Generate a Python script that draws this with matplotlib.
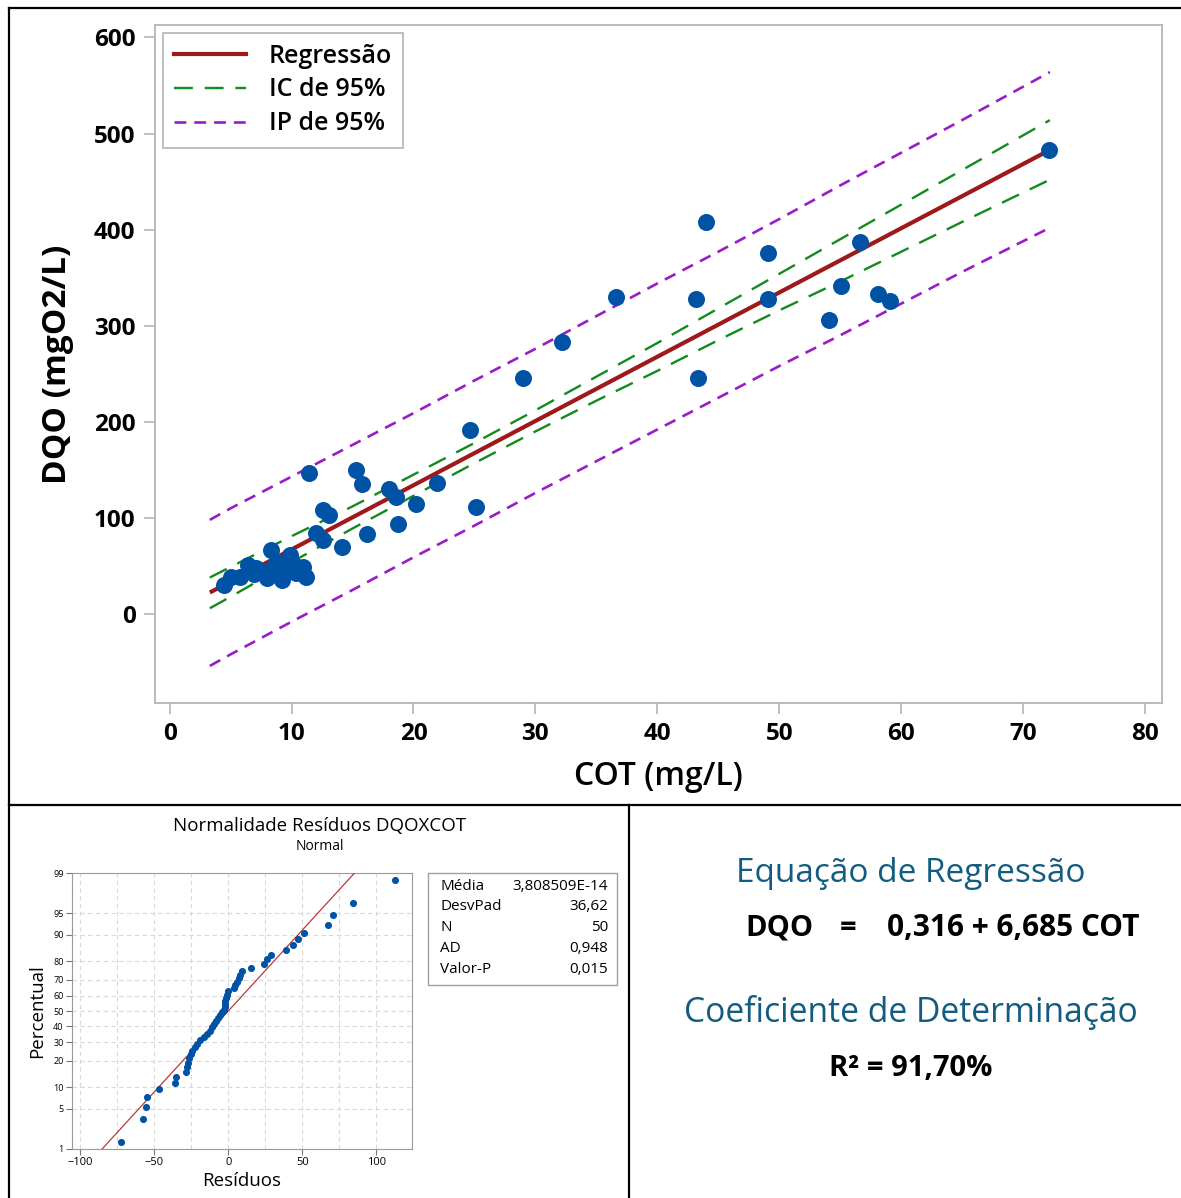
"""
DQO x COT regression chart with CI/PI bands, residual normal plot and
equation panel.
"""
from statistics import NormalDist

import matplotlib
matplotlib.use("Agg")
import matplotlib.pyplot as plt
from matplotlib.lines import Line2D
from matplotlib.patches import Rectangle
import numpy as np

plt.rcParams["font.family"] = ["Open Sans", "DejaVu Sans"]

W, H = 1181, 1198

# ── data ─────────────────────────────────────────────────────────────
cot = [72.1, 44.0, 56.6, 49.1, 36.6, 43.2, 49.1, 55.1, 58.1, 59.1,
       54.1, 43.3, 32.2, 29.0, 24.6, 25.1, 21.9, 20.2, 15.3, 15.8,
       11.4, 18.0, 18.6, 18.7, 16.2, 14.1, 12.6, 13.1, 12.0, 12.6,
       4.5, 5.06, 5.74, 6.4, 7.1, 8.3, 8.3, 9.0, 9.2, 9.7,
       10.4, 10.9, 11.2, 7.8, 8.6, 9.5, 10.1, 6.9, 8.0, 9.9]
dqo = [483, 408, 387, 376, 330, 328, 328, 341, 333, 326,
       306, 246, 283, 246, 191, 111, 136, 115, 150, 135,
       147, 130, 122, 94, 83, 70, 108, 103, 84, 77,
       30, 38.8, 38.8, 51, 47.5, 66.6, 40.6, 52.7, 35.4, 54.4,
       42.3, 49.2, 38.8, 45, 50, 48, 52, 42, 38, 61]

INTERCEPT = 0.316
SLOPE = 6.685

band_x  = [3.3, 5, 10, 15, 20, 25, 30, 35, 40, 45, 50, 55, 60, 65, 72.2]
ci_low  = [6, 18, 54, 89, 123, 157, 190, 222, 253, 285, 316, 346, 377, 408, 452]
ci_high = [38, 49, 81, 112, 145, 178, 212, 247, 282, 318, 354, 390, 426, 462, 514]
pi_low  = [-54, -42, -8, 25, 59, 92, 126, 159, 192, 225, 258, 290, 323, 356, 402]
pi_high = [98, 110, 143, 176, 209, 243, 276, 310, 344, 377, 411, 446, 480, 514, 564]

residuals = [-72.3, -57.9, -55.6, -54.7, -46.8, -35.8, -35.1, -28.4,
             -27.7, -27.0, -26.4, -25.5, -24.3, -22.5, -20.9, -19.4,
             -16.4, -14.2, -12.2, -10.8, -9.7, -8.1, -6.8, -5.4, -4.1,
             -3.2, -2.5, -2.3, -2.0, -1.6, -1.1, -0.5,
             3.8, 4.7, 5.9, 7.0, 8.1, 9.2, 15.5, 23.9, 26.4, 29.1,
             38.7, 43.9, 46.8, 51.1, 67.1, 70.9, 84.2, 112.4]
RES_MEAN = 3.808509e-14
RES_SD = 36.62

stats_names = ["Média", "DesvPad", "N", "AD", "Valor-P"]
stats_vals = ["3,808509E-14", "36,62", "50", "0,948", "0,015"]
prob_ticks = [1, 5, 10, 20, 30, 40, 50, 60, 70, 80, 90, 95, 99]

BLUE = "#0053A4"
RED = "#9E1A1A"
GREEN = "#138A1E"
PURPLE = "#9A1CC6"
TEAL = "#115C80"
FRAME = "#b4b4b4"


def fx(px):
    return px / W


def fy(py):
    return 1 - py / H


def axes_rect(left, top, right, bottom):
    return [fx(left), fy(bottom), (right - left) / W, (bottom - top) / H]


fig = plt.figure(figsize=(W / 100, H / 100), dpi=100)

# ── main regression plot ─────────────────────────────────────────────
ax = fig.add_axes(axes_rect(155, 25, 1162, 703))
bx = np.array(band_x)
ax.plot(bx, pi_low, color=PURPLE, lw=1.9, ls=(0, (4.5, 3)))
ax.plot(bx, pi_high, color=PURPLE, lw=1.9, ls=(0, (4.5, 3)))
ax.plot(bx, ci_low, color=GREEN, lw=1.7, ls=(0, (8, 5)))
ax.plot(bx, ci_high, color=GREEN, lw=1.7, ls=(0, (8, 5)))
ax.plot(bx, INTERCEPT + SLOPE * bx, color=RED, lw=3.0, solid_capstyle="butt")
ax.scatter(cot, dqo, s=150, color=BLUE, zorder=5, linewidths=0)

ax.set_xlim(-1.2, 81.4)
ax.set_ylim(-92.6, 613)
ax.set_xticks(range(0, 81, 10))
ax.set_yticks(range(0, 601, 100))
for s in ax.spines.values():
    s.set_color(FRAME)
    s.set_linewidth(1.3)
ax.tick_params(direction="out", length=8, width=1.2, color=FRAME,
               labelsize=17.5, pad=6)
for lab in ax.get_xticklabels() + ax.get_yticklabels():
    lab.set_fontweight("bold")
ax.set_xlabel("COT (mg/L)", fontsize=23, fontweight="semibold", labelpad=10)
ax.set_ylabel("DQO (mgO2/L)", fontsize=24, fontweight="bold", labelpad=14)

handles = [
    Line2D([], [], color=RED, lw=3.0),
    Line2D([], [], color=GREEN, lw=1.7, ls=(0, (8, 5))),
    Line2D([], [], color=PURPLE, lw=1.9, ls=(0, (4.5, 3))),
]
leg = ax.legend(handles, ["Regressão", "IC de 95%", "IP de 95%"],
                loc="upper left", bbox_to_anchor=(0.0, 1.0),
                borderaxespad=0.3, handlelength=2.9, handletextpad=0.9,
                labelspacing=0.35, borderpad=0.45, fancybox=False,
                framealpha=1, edgecolor=FRAME,
                prop={"size": 18, "weight": "semibold"})
leg.get_frame().set_linewidth(1.2)

# ── residual normal probability plot ─────────────────────────────────
nd = NormalDist()


def to_z(p):
    p = np.clip(np.asarray(p, dtype=float), 1e-6, 100 - 1e-6)
    return np.vectorize(lambda v: nd.inv_cdf(v / 100), otypes=[float])(p)


def from_z(z):
    z = np.asarray(z, dtype=float)
    return np.vectorize(lambda v: nd.cdf(v) * 100, otypes=[float])(z)


ax2 = fig.add_axes(axes_rect(72, 873, 412, 1149))
ax2.set_yscale("function", functions=(to_z, from_z))
res = np.sort(np.array(residuals))
n = len(res)
pct = (np.arange(1, n + 1) - 0.3) / (n + 0.4) * 100
line_p = np.array([1.0, 99.0])
line_x = RES_MEAN + RES_SD * to_z(line_p)
ax2.plot(line_x, line_p, color="#B83A3A", lw=0.9, zorder=3)
ax2.scatter(res, pct, s=26, color=BLUE, zorder=4, linewidths=0)
ax2.set_xlim(-105.5, 124)
ax2.set_ylim(1, 99)
ax2.set_xticks([-100, -50, 0, 50, 100])
ax2.set_xticks([-75, -25, 25, 75], minor=True)
ax2.set_yticks(prob_ticks)
ax2.set_yticklabels([str(t) for t in prob_ticks])
ax2.yaxis.set_minor_locator(matplotlib.ticker.NullLocator())
ax2.grid(True, which="both", color="#d8d8d8", ls=(0, (4, 3)), lw=0.8)
ax2.tick_params(axis="x", which="major", labelsize=8, length=4,
                color="#777777", pad=2)
ax2.tick_params(axis="x", which="minor", length=0)
ax2.tick_params(axis="y", labelsize=6.5, length=4, color="#777777", pad=2)
for s in ax2.spines.values():
    s.set_color("#9a9a9a")
ax2.set_xlabel("Resíduos", fontsize=13.5, labelpad=3)
ax2.set_ylabel("Percentual", fontsize=13.5, labelpad=5)

fig.text(fx(320), fy(826), "Normalidade Resíduos DQOXCOT", fontsize=13.5,
         ha="center", va="center")
fig.text(fx(320), fy(847), "Normal", fontsize=10, ha="center", va="center")

fig.add_artist(Rectangle((fx(428), fy(985)), (617 - 428) / W, (985 - 873) / H,
                         transform=fig.transFigure, fill=False,
                         edgecolor="#a0a0a0", lw=1.0))
for i, (name, val) in enumerate(zip(stats_names, stats_vals)):
    yy = fy(886 + i * 20.8)
    fig.text(fx(440), yy, name, fontsize=11, ha="left", va="center")
    fig.text(fx(608), yy, val, fontsize=11, ha="right", va="center")

# ── equation panel ───────────────────────────────────────────────────
fig.text(fx(911), fy(873), "Equação de Regressão", fontsize=24,
         color=TEAL, ha="center", va="center")
fig.text(fx(745), fy(928), "DQO", fontsize=21, fontweight="bold",
         ha="left", va="center")
fig.text(fx(848), fy(928), "=", fontsize=21, fontweight="bold",
         ha="center", va="center")
fig.text(fx(887), fy(928), "0,316 + 6,685 COT", fontsize=21.5,
         fontweight="bold", ha="left", va="center")
fig.text(fx(911), fy(1013), "Coeficiente de Determinação", fontsize=24.2,
         color=TEAL, ha="center", va="center")
fig.text(fx(911), fy(1068), "R² = 91,70%", fontsize=21,
         fontweight="bold", ha="center", va="center")

# ── panel borders ────────────────────────────────────────────────────
for (x0, y0, x1, y1) in [(9, 8, 1181, 8), (9, 8, 9, 1198),
                         (9, 805, 1181, 805), (629, 805, 629, 1198)]:
    fig.add_artist(Line2D([fx(x0), fx(x1)], [fy(y0), fy(y1)],
                          transform=fig.transFigure, color="black", lw=1.6))

fig.savefig("out.png", dpi=100)
